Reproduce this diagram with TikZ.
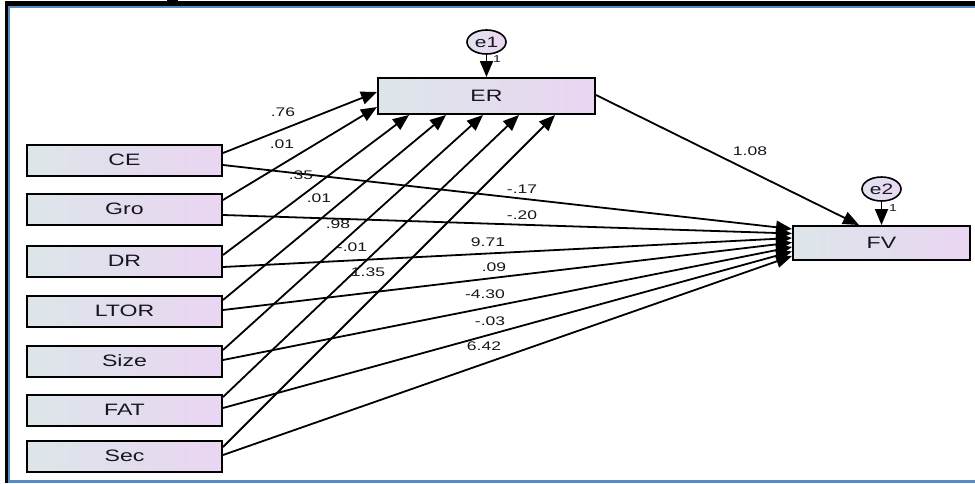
\documentclass[tikz,border=0pt]{standalone}
\usepackage{fontspec}
\setmainfont{Liberation Sans}[FakeStretch=1.4]
\usetikzlibrary{arrows.meta,shapes.geometric,calc}

\definecolor{boxL}{HTML}{DCE6E9}
\definecolor{boxR}{HTML}{EAD5F2}
\definecolor{errL}{HTML}{E2E2EE}
\definecolor{errR}{HTML}{EAD6F2}
\definecolor{frameblue}{HTML}{5A8AC6}
\definecolor{ink}{HTML}{16161E}

\tikzset{
  var/.style={draw=black, line width=2pt, left color=boxL, right color=boxR,
    minimum width=195pt, minimum height=31pt, inner sep=0pt, text=ink,
    font=\fontsize{16.5}{16.5}\selectfont},
  err/.style={ellipse, draw=black, line width=1.6pt, left color=errL, right color=errR,
    minimum width=39pt, minimum height=24pt, inner sep=0pt, text=ink,
    font=\fontsize{15}{15}\selectfont},
  reg/.style={line width=1.8pt, -{Triangle[length=16pt,width=13pt]}},
  coef/.style={font=\fontsize{12.5}{12.5}\selectfont, inner sep=0pt, text=ink},
  fixone/.style={font=\fontsize{10}{10}\selectfont, inner sep=0pt, text=ink}
}

\begin{document}
\begin{tikzpicture}[x=1pt,y=-1pt]
\useasboundingbox (0,0) rectangle (975,483);
\fill[white] (0,0) rectangle (975,483);

% window frame
\fill[black] (5,1) rectangle (975,6);
\fill[black] (5,1) rectangle (8,483);
\fill[black] (167,0) rectangle (178,3);
\fill[frameblue] (8,6) rectangle (975,8);
\fill[frameblue] (8,6) rectangle (10,483);
\fill[frameblue] (8,480) rectangle (975,483);

% observed variables
\node[var] (CE)   at (124.5,160) {CE};
\node[var] (Gro)  at (124.5,209) {Gro};
\node[var] (DR)   at (124.5,261) {DR};
\node[var] (LTOR) at (124.5,311) {LTOR};
\node[var] (Size) at (124.5,361) {Size};
\node[var] (FAT)  at (124.5,410) {FAT};
\node[var] (Sec)  at (124.5,456) {Sec};
\node[var, minimum width=217pt, minimum height=36pt] (ER) at (486.5,96) {ER};
\node[var, minimum width=177pt, minimum height=34pt] (FV) at (881.5,243) {FV};

% error terms
\node[err] (e1) at (486.5,42) {e1};
\node[err] (e2) at (881.5,189) {e2};
\draw[reg] (e1) -- (ER);
\draw[reg] (e2) -- (FV);
\node[fixone] (one1) at (497,59) {1};
\node[fixone] (one2) at (893,208) {1};

% paths into ER
\draw[reg] ($(CE.east)+(0,-7)$)    -- ($(ER.west)+(0,-4)$);
\draw[reg] ($(Gro.east)+(0,-9)$)   -- ($(ER.west)+(0,11)$);
\draw[reg] ($(DR.east)+(0,-6)$)    -- ($(ER.south west)+(32,0)$);
\draw[reg] ($(LTOR.east)+(0,-11)$) -- ($(ER.south west)+(69,0)$);
\draw[reg] ($(Size.east)+(0,-11)$) -- ($(ER.south west)+(106,0)$);
\draw[reg] ($(FAT.east)+(0,-13)$)  -- ($(ER.south west)+(142,0)$);
\draw[reg] ($(Sec.east)+(0,-9)$)   -- ($(ER.south west)+(178,0)$);

% paths into FV
\draw[reg] ($(CE.east)+(0,5)$)    -- ($(FV.west)+(0,-14)$);
\draw[reg] ($(Gro.east)+(0,6)$)   -- ($(FV.west)+(0,-9.5)$);
\draw[reg] ($(DR.east)+(0,6)$)    -- ($(FV.west)+(0,-5)$);
\draw[reg] ($(LTOR.east)+(0,-1)$) -- ($(FV.west)+(0,-0.5)$);
\draw[reg] ($(Size.east)+(0,-1)$) -- ($(FV.west)+(0,4)$);
\draw[reg] ($(FAT.east)+(0,-2)$)  -- ($(FV.west)+(0,8.5)$);
\draw[reg] ($(Sec.east)+(0,-1)$)  -- ($(FV.west)+(0,13)$);
\draw[reg] ($(ER.east)+(0,-1)$)   -- ($(FV.north west)+(67,0)$);

% coefficients on paths into ER
\node[coef] (c1) at (283,112) {.76};
\node[coef] (c2) at (282,144) {.01};
\node[coef] (c3) at (301,175) {.35};
\node[coef] (c4) at (319,198) {.01};
\node[coef] (c5) at (338,224) {.98};
\node[coef] (c6) at (352,247) {-.01};
\node[coef] (c7) at (368,272) {1.35};
% coefficients on paths into FV
\node[coef] (d1) at (522,189) {-.17};
\node[coef] (d2) at (522,215) {-.20};
\node[coef] (d3) at (488,242) {9.71};
\node[coef] (d4) at (494,267) {.09};
\node[coef] (d5) at (485,294) {-4.30};
\node[coef] (d6) at (490,321) {-.03};
\node[coef] (d7) at (484,346) {6.42};
\node[coef] (d8) at (750,151) {1.08};
\end{tikzpicture}
\end{document}
